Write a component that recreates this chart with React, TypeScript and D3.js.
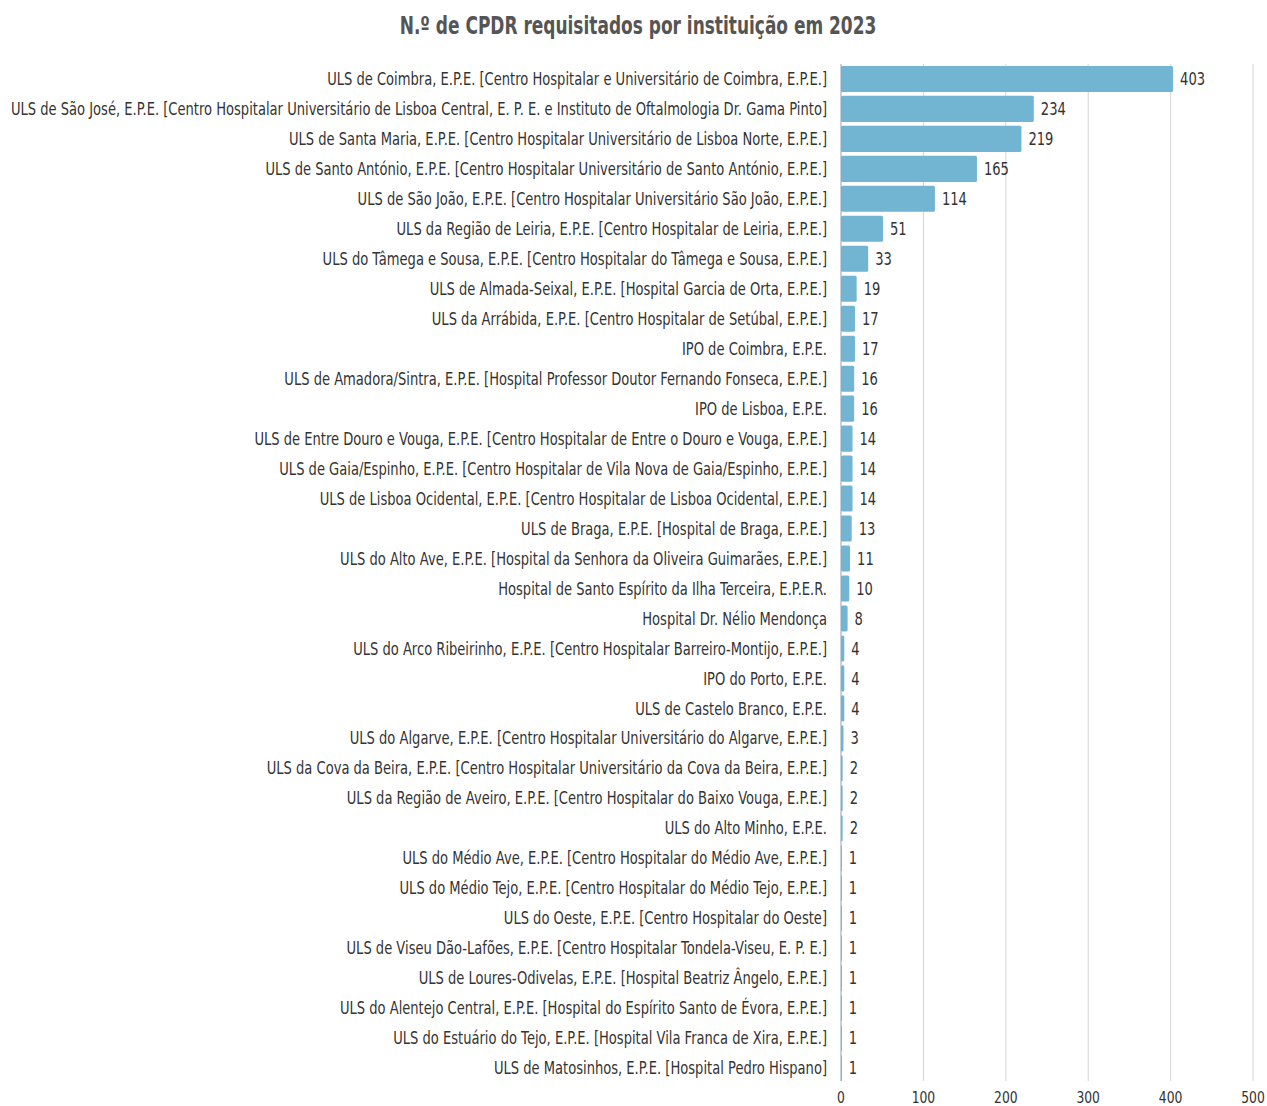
import React, { useEffect, useRef } from 'react';
import * as d3 from 'd3';

const institutions = [
  'ULS de Coimbra, E.P.E. [Centro Hospitalar e Universitário de Coimbra, E.P.E.]',
  'ULS de São José, E.P.E. [Centro Hospitalar Universitário de Lisboa Central, E. P. E. e Instituto de Oftalmologia Dr. Gama Pinto]',
  'ULS de Santa Maria, E.P.E. [Centro Hospitalar Universitário de Lisboa Norte, E.P.E.]',
  'ULS de Santo António, E.P.E. [Centro Hospitalar Universitário de Santo António, E.P.E.]',
  'ULS de São João, E.P.E. [Centro Hospitalar Universitário São João, E.P.E.]',
  'ULS da Região de Leiria, E.P.E. [Centro Hospitalar de Leiria, E.P.E.]',
  'ULS do Tâmega e Sousa, E.P.E. [Centro Hospitalar do Tâmega e Sousa, E.P.E.]',
  'ULS de Almada-Seixal, E.P.E. [Hospital Garcia de Orta, E.P.E.]',
  'ULS da Arrábida, E.P.E. [Centro Hospitalar de Setúbal, E.P.E.]',
  'IPO de Coimbra, E.P.E.',
  'ULS de Amadora/Sintra, E.P.E. [Hospital Professor Doutor Fernando Fonseca, E.P.E.]',
  'IPO de Lisboa, E.P.E.',
  'ULS de Entre Douro e Vouga, E.P.E. [Centro Hospitalar de Entre o Douro e Vouga, E.P.E.]',
  'ULS de Gaia/Espinho, E.P.E. [Centro Hospitalar de Vila Nova de Gaia/Espinho, E.P.E.]',
  'ULS de Lisboa Ocidental, E.P.E. [Centro Hospitalar de Lisboa Ocidental, E.P.E.]',
  'ULS de Braga, E.P.E. [Hospital de Braga, E.P.E.]',
  'ULS do Alto Ave, E.P.E. [Hospital da Senhora da Oliveira Guimarães, E.P.E.]',
  'Hospital de Santo Espírito da Ilha Terceira, E.P.E.R.',
  'Hospital Dr. Nélio Mendonça',
  'ULS do Arco Ribeirinho, E.P.E. [Centro Hospitalar Barreiro-Montijo, E.P.E.]',
  'IPO do Porto, E.P.E.',
  'ULS de Castelo Branco, E.P.E.',
  'ULS do Algarve, E.P.E. [Centro Hospitalar Universitário do Algarve, E.P.E.]',
  'ULS da Cova da Beira, E.P.E. [Centro Hospitalar Universitário da Cova da Beira, E.P.E.]',
  'ULS da Região de Aveiro, E.P.E. [Centro Hospitalar do Baixo Vouga, E.P.E.]',
  'ULS do Alto Minho, E.P.E.',
  'ULS do Médio Ave, E.P.E. [Centro Hospitalar do Médio Ave, E.P.E.]',
  'ULS do Médio Tejo, E.P.E. [Centro Hospitalar do Médio Tejo, E.P.E.]',
  'ULS do Oeste, E.P.E. [Centro Hospitalar do Oeste]',
  'ULS de Viseu Dão-Lafões, E.P.E. [Centro Hospitalar Tondela-Viseu, E. P. E.]',
  'ULS de Loures-Odivelas, E.P.E. [Hospital Beatriz Ângelo, E.P.E.]',
  'ULS do Alentejo Central, E.P.E. [Hospital do Espírito Santo de Évora, E.P.E.]',
  'ULS do Estuário do Tejo, E.P.E. [Hospital Vila Franca de Xira, E.P.E.]',
  'ULS de Matosinhos, E.P.E. [Hospital Pedro Hispano]',
];

const requests = [
  403, 234, 219, 165, 114, 51, 33, 19, 17, 17, 16, 16, 14, 14, 14, 13, 11, 10, 8,
  4, 4, 4, 3, 2, 2, 2, 1, 1, 1, 1, 1, 1, 1, 1,
];

const xTicks = [0, 100, 200, 300, 400, 500];

const title = 'N.º de CPDR requisitados por instituição em 2023';

const FONT = '"DejaVu Sans", sans-serif';

export default function App() {
  const ref = useRef<SVGSVGElement | null>(null);

  useEffect(() => {
    const svg = d3.select(ref.current);
    svg.selectAll('*').remove();

    const x = d3.scaleLinear().domain([0, 500]).range([841, 1253]);
    const y = d3
      .scaleBand()
      .domain(institutions)
      .range([62, 1085])
      .paddingInner(0.13)
      .paddingOuter(0.13);

    // the original uses a condensed face; squeeze DejaVu horizontally to match
    const squeeze = (
      sel: d3.Selection<SVGTextElement, any, any, any>,
      k: number,
      px: (d: any, i: number) => number,
      py: (d: any, i: number) => number
    ) => {
      sel.attr('x', 0).attr('y', 0).attr('transform', (d, i) => `translate(${px(d, i)},${py(d, i)}) scale(${k},1)`);
    };

    // title
    const titleSel = svg
      .append('text')
      .attr('text-anchor', 'middle')
      .attr('font-family', FONT)
      .attr('font-weight', 'bold')
      .attr('font-size', 25)
      .attr('fill', '#555')
      .text(title);
    const tk = 477 / (titleSel.node() as SVGTextElement).getComputedTextLength();
    squeeze(titleSel as any, tk, () => 638, () => 34);

    // grid
    svg
      .append('g')
      .selectAll('line')
      .data(xTicks.slice(1))
      .join('line')
      .attr('x1', (d) => x(d))
      .attr('x2', (d) => x(d))
      .attr('y1', 64)
      .attr('y2', 1081)
      .attr('stroke', '#d4d4d4')
      .attr('stroke-width', 1);

    // bars
    svg
      .append('g')
      .selectAll('rect')
      .data(requests)
      .join('rect')
      .attr('x', x(0))
      .attr('y', (d, i) => y(institutions[i])!)
      .attr('width', (d) => x(d) - x(0))
      .attr('height', y.bandwidth())
      .attr('rx', 1.5)
      .attr('fill', '#72b5d3');

    // zero axis
    svg
      .append('line')
      .attr('x1', x(0))
      .attr('x2', x(0))
      .attr('y1', 64)
      .attr('y2', 1081)
      .attr('stroke', '#8ea3b3')
      .attr('stroke-width', 1);

    // category labels
    const catSel = svg
      .append('g')
      .selectAll('text')
      .data(institutions)
      .join('text')
      .attr('dy', '0.36em')
      .attr('text-anchor', 'end')
      .attr('font-family', FONT)
      .attr('font-size', 17)
      .attr('fill', '#333')
      .text((d) => d);
    const widest = d3.max(catSel.nodes(), (n) => (n as SVGTextElement).getComputedTextLength()) || 1;
    const k = 817 / widest;
    squeeze(catSel as any, k, () => x(0) - 14, (d) => y(d)! + y.bandwidth() / 2);

    // value labels
    const valSel = svg
      .append('g')
      .selectAll('text')
      .data(requests)
      .join('text')
      .attr('dy', '0.36em')
      .attr('font-family', FONT)
      .attr('font-size', 17)
      .attr('fill', '#333')
      .text((d) => d);
    squeeze(valSel as any, k, (d) => x(d) + 7, (d, i) => y(institutions[i])! + y.bandwidth() / 2);

    // x tick labels
    const tickSel = svg
      .append('g')
      .selectAll('text')
      .data(xTicks)
      .join('text')
      .attr('dy', '0.36em')
      .attr('text-anchor', 'middle')
      .attr('font-family', FONT)
      .attr('font-size', 16)
      .attr('fill', '#333')
      .text((d) => d);
    squeeze(tickSel as any, k, (d) => x(d), () => 1097);
  }, []);

  return (
    <svg
      ref={ref}
      width={1267}
      height={1106}
      style={{ position: 'absolute', left: 0, top: 0, background: '#fff' }}
    />
  );
}
